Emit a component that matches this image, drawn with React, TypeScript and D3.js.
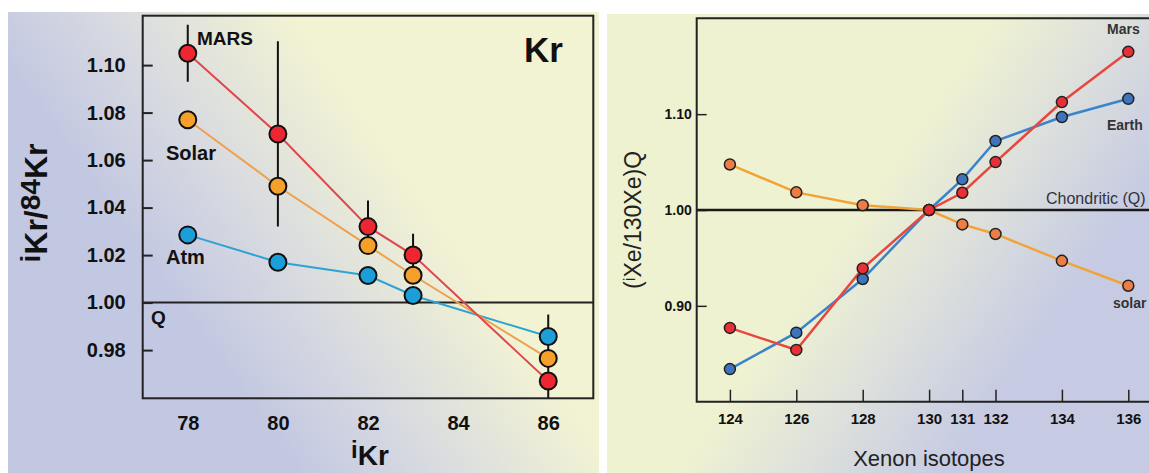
import React, { useEffect, useRef } from 'react'
import * as d3 from 'd3'

// Kr panel
const krIsotopes = [78, 80, 82, 83, 86]
const krMars = [1.105, 1.071, 1.032, 1.020, 0.967]
const krMarsErr = [0.012, 0.039, 0.011, 0.009, 0.028]
const krSolar = [1.077, 1.049, 1.024, 1.0115, 0.9765]
const krAtm = [1.0285, 1.017, 1.0114, 1.003, 0.9857]
const krTicksX = [78, 80, 82, 84, 86]
const krTicksY = [0.98, 1.0, 1.02, 1.04, 1.06, 1.08, 1.1]

// Xe panel
const xeIsotopes = [124, 126, 128, 130, 131, 132, 134, 136]
const xeSolar = [1.0475, 1.0184, 1.005, 1.0, 0.985, 0.975, 0.947, 0.921]
const xeEarth = [0.834, 0.872, 0.928, 1.0, 1.032, 1.072, 1.097, 1.116]
const xeMars = [0.877, 0.854, 0.939, 1.0, 1.018, 1.05, 1.1126, 1.165]
const xeTicksY = [0.9, 1.0, 1.1]

const FONT = "'Liberation Sans', Arial, Helvetica, sans-serif"

function drawChart(node: SVGSVGElement) {
  const svg = d3.select(node)
  svg.selectAll('*').remove()
  svg.attr('font-family', FONT)

  svg.append('rect').attr('width', 1149).attr('height', 473).attr('fill', '#ffffff')

  const defs = svg.append('defs')
  const gL = defs.append('linearGradient').attr('id', 'bgL')
    .attr('gradientUnits', 'userSpaceOnUse')
    .attr('x1', 190).attr('y1', 320).attr('x2', 400).attr('y2', 170)
  gL.append('stop').attr('offset', 0).attr('stop-color', '#c3c8e2')
  gL.append('stop').attr('offset', 0.45).attr('stop-color', '#d9dbe0')
  gL.append('stop').attr('offset', 1).attr('stop-color', '#f2f3d3')

  const gR = defs.append('linearGradient').attr('id', 'bgR')
    .attr('gradientUnits', 'userSpaceOnUse')
    .attr('x1', 880).attr('y1', 180).attr('x2', 1060).attr('y2', 305)
  gR.append('stop').attr('offset', 0).attr('stop-color', '#eff2d1')
  gR.append('stop').attr('offset', 0.5).attr('stop-color', '#dcdfdc')
  gR.append('stop').attr('offset', 1).attr('stop-color', '#c6cbe3')

  svg.append('rect').attr('x', 8).attr('y', 12).attr('width', 591).attr('height', 461).attr('fill', 'url(#bgL)')
  svg.append('rect').attr('x', 607).attr('y', 14).attr('width', 542).attr('height', 459).attr('fill', 'url(#bgR)')

  // ---------------- Kr panel ----------------
  const xL = d3.scaleLinear().domain([77, 87]).range([142.7, 593.3])
  const yL = d3.scaleLinear().domain([0.9597, 1.1208]).range([398.3, 15.7])

  const left = svg.append('g')
  left.append('defs').append('clipPath').attr('id', 'clipL')
    .append('rect').attr('x', 142.7).attr('y', 15.7).attr('width', 450.6).attr('height', 382.6)

  // x axis labels (no tick marks)
  left.append('g')
    .attr('transform', 'translate(0,398.3)')
    .call(d3.axisBottom(xL).tickValues(krTicksX).tickSize(0).tickPadding(18).tickFormat(d3.format('d')))
    .call(g => g.select('.domain').remove())
    .selectAll('text')
    .attr('fill', '#111').attr('font-size', 20).attr('font-weight', 'bold').attr('font-family', FONT)

  // y axis, ticks pointing inward
  left.append('g')
    .attr('transform', 'translate(142.7,0)')
    .call(d3.axisLeft(yL).tickValues(krTicksY).tickSize(-10).tickPadding(17).tickFormat(d3.format('.2f')))
    .call(g => g.select('.domain').remove())
    .call(g => g.selectAll('line').attr('stroke', '#222').attr('stroke-width', 2))
    .selectAll('text')
    .attr('fill', '#111').attr('font-size', 20).attr('font-weight', 'bold').attr('font-family', FONT)

  // Q reference line
  left.append('line')
    .attr('x1', xL(77)).attr('x2', xL(87)).attr('y1', yL(1)).attr('y2', yL(1))
    .attr('stroke', '#222').attr('stroke-width', 2)

  const krSeries = [
    { vals: krAtm, line: '#2ea3d3', fill: '#1c9fd9' },
    { vals: krSolar, line: '#efa04e', fill: '#f6a02c' },
    { vals: krMars, line: '#e0474c', fill: '#ee2632' },
  ]
  const krLine = d3.line<number>().x((_, i) => xL(krIsotopes[i])).y(d => yL(d))
  krSeries.forEach(s => {
    left.append('path').attr('d', krLine(s.vals)).attr('fill', 'none')
      .attr('stroke', s.line).attr('stroke-width', 2)
  })

  // error bars on MARS
  left.append('g').attr('clip-path', 'url(#clipL)')
    .selectAll('line').data(krMars).enter().append('line')
    .attr('x1', (_, i) => xL(krIsotopes[i])).attr('x2', (_, i) => xL(krIsotopes[i]))
    .attr('y1', (d, i) => yL(d + krMarsErr[i])).attr('y2', (d, i) => yL(d - krMarsErr[i]))
    .attr('stroke', '#111').attr('stroke-width', 2)

  krSeries.forEach(s => {
    left.append('g').selectAll('circle').data(s.vals).enter().append('circle')
      .attr('cx', (_, i) => xL(krIsotopes[i])).attr('cy', d => yL(d)).attr('r', 8.5)
      .attr('fill', s.fill).attr('stroke', '#111').attr('stroke-width', 2)
  })

  left.append('rect').attr('x', 142.7).attr('y', 15.7).attr('width', 450.6).attr('height', 382.6)
    .attr('fill', 'none').attr('stroke', '#222').attr('stroke-width', 2)

  const lbl = (g: any, x: number, y: number, t: string, size: number, weight = 'bold', fill = '#111') =>
    g.append('text').attr('x', x).attr('y', y).attr('font-size', size).attr('font-weight', weight)
      .attr('fill', fill).text(t)

  lbl(left, 197, 45, 'MARS', 19)
  lbl(left, 166, 160, 'Solar', 20)
  lbl(left, 166, 264, 'Atm', 20)
  lbl(left, 151, 324, 'Q', 19)
  lbl(left, 524, 62, 'Kr', 35)

  // axis titles
  const yt = left.append('text').attr('transform', 'translate(47,203) rotate(-90)')
    .attr('text-anchor', 'middle').attr('font-size', 32).attr('font-weight', 'bold').attr('fill', '#111')
  yt.append('tspan').attr('font-size', 28).attr('dy', -7).text('i')
  yt.append('tspan').attr('dy', 7).text('Kr/')
  yt.append('tspan').attr('font-size', 28).attr('dy', -7).text('84')
  yt.append('tspan').attr('dy', 7).text('Kr')

  const xt = left.append('text').attr('x', 370).attr('y', 465).attr('text-anchor', 'middle')
    .attr('font-size', 28).attr('font-weight', 'bold').attr('fill', '#111')
  xt.append('tspan').attr('font-size', 24).attr('dy', -7).text('i')
  xt.append('tspan').attr('dy', 7).text('Kr')

  // ---------------- Xe panel ----------------
  const xR = d3.scaleLinear().domain([123, 137]).range([696.7, 696.7 + 14 * 33.2])
  const yR = d3.scaleLinear().domain([0.8, 1.2]).range([401.7, 18.3])

  const right = svg.append('g')

  right.append('g')
    .attr('transform', 'translate(0,401.7)')
    .call(d3.axisBottom(xR).tickValues(xeIsotopes).tickSize(-12).tickPadding(12).tickFormat(d3.format('d')))
    .call(g => g.select('.domain').remove())
    .call(g => g.selectAll('line').attr('stroke', '#222').attr('stroke-width', 1.5))
    .selectAll('text')
    .attr('fill', '#111').attr('font-size', 15).attr('font-weight', 'bold').attr('font-family', FONT)

  right.append('g')
    .attr('transform', 'translate(696.7,0)')
    .call(d3.axisLeft(yR).tickValues(xeTicksY).tickSize(-10).tickPadding(5).tickFormat(d3.format('.2f')))
    .call(g => g.select('.domain').remove())
    .call(g => g.selectAll('line').attr('stroke', '#222').attr('stroke-width', 1.5))
    .selectAll('text')
    .attr('fill', '#111').attr('font-size', 14).attr('font-weight', 'bold').attr('font-family', FONT)

  right.append('line')
    .attr('x1', xR(123)).attr('x2', 1149).attr('y1', yR(1)).attr('y2', yR(1))
    .attr('stroke', '#1a1a1a').attr('stroke-width', 2.5)

  const xeSeries = [
    { vals: xeSolar, line: '#f2a337', fill: '#ec7d47' },
    { vals: xeEarth, line: '#3a84cc', fill: '#3f74bd' },
    { vals: xeMars, line: '#e8473f', fill: '#ea2e36' },
  ]
  const xeLine = d3.line<number>().x((_, i) => xR(xeIsotopes[i])).y(d => yR(d))
  xeSeries.forEach(s => {
    right.append('path').attr('d', xeLine(s.vals)).attr('fill', 'none')
      .attr('stroke', s.line).attr('stroke-width', 2.5)
  })
  xeSeries.forEach(s => {
    right.append('g').selectAll('circle').data(s.vals).enter().append('circle')
      .attr('cx', (_, i) => xR(xeIsotopes[i])).attr('cy', d => yR(d)).attr('r', 5.5)
      .attr('fill', s.fill).attr('stroke', '#222').attr('stroke-width', 1.5)
  })

  right.append('path')
    .attr('d', `M1149,${yR(1.2)}H${xR(123)}V${yR(0.8)}H1149`)
    .attr('fill', 'none').attr('stroke', '#222').attr('stroke-width', 2)

  lbl(right, 1107, 34, 'Mars', 14, 'bold', '#333')
  lbl(right, 1107, 130, 'Earth', 14, 'bold', '#333')
  lbl(right, 1046, 204, 'Chondritic (Q)', 16, 'normal', '#333')
  lbl(right, 1113, 308, 'solar', 14, 'bold', '#333')

  const yt2 = right.append('text').attr('transform', 'translate(641,220) rotate(-90)')
    .attr('text-anchor', 'middle').attr('font-size', 23).attr('fill', '#222')
  yt2.append('tspan').text('(')
  yt2.append('tspan').attr('font-size', 17).attr('dy', -6).text('i')
  yt2.append('tspan').attr('dy', 6).text('Xe/130Xe)Q')

  right.append('text').attr('x', 929).attr('y', 466).attr('text-anchor', 'middle')
    .attr('font-size', 22).attr('fill', '#222').text('Xenon isotopes')
}

export default function App() {
  const ref = useRef<SVGSVGElement>(null)
  useEffect(() => {
    if (ref.current) drawChart(ref.current)
  }, [])
  return (
    <svg
      ref={ref}
      width={1149}
      height={473}
      style={{ position: 'absolute', left: 0, top: 0, display: 'block' }}
    />
  )
}
